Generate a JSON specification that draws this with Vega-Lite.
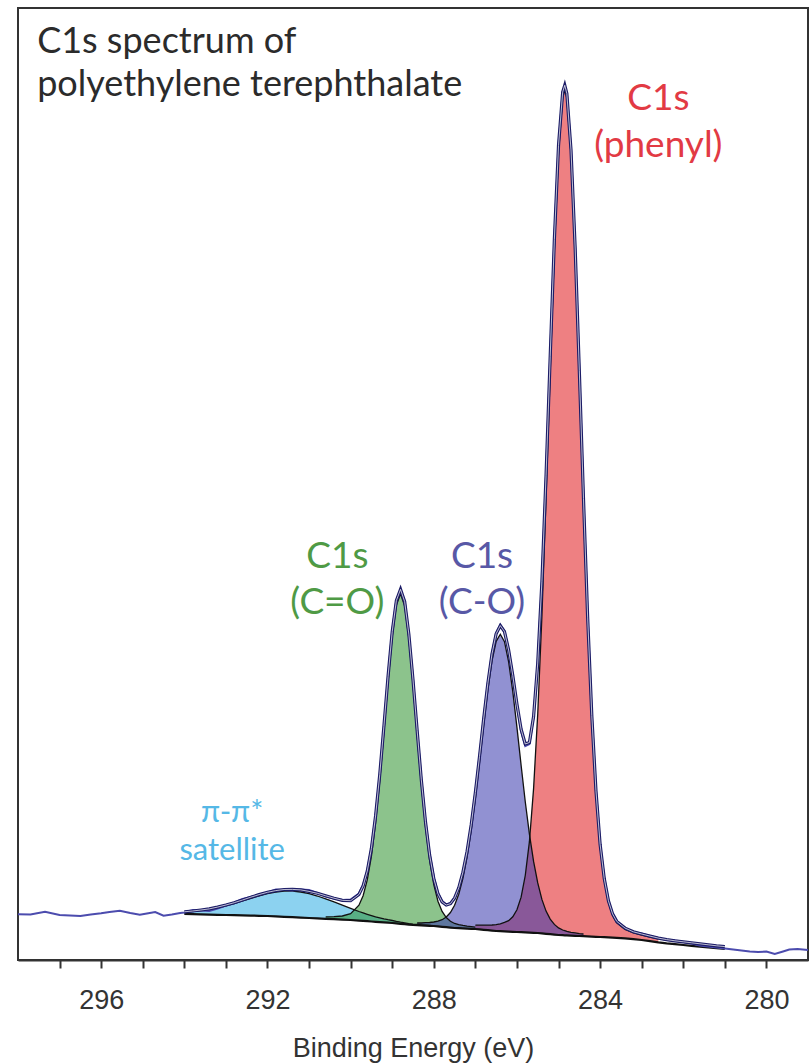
{
  "$schema": "https://vega.github.io/schema/vega-lite/v6.json",
  "width": 790,
  "height": 952,
  "autosize": "none",
  "padding": {"left": 18, "top": 8, "right": 1, "bottom": 103},
  "background": "white",
  "config": {"view": {"stroke": "#333333", "strokeWidth": 2}},
  "datasets": {
    "spec": [
      {"E": 298.0, "obs": 45.7}, {"E": 297.7, "obs": 45.5}, {"E": 297.35, "obs": 48.3}, {"E": 297.0, "obs": 45.0},
      {"E": 296.75, "obs": 44.5}, {"E": 296.5, "obs": 44.0}, {"E": 296.25, "obs": 45.5}, {"E": 296.0, "obs": 46.7},
      {"E": 295.8, "obs": 48.0}, {"E": 295.55, "obs": 49.3}, {"E": 295.3, "obs": 47.0}, {"E": 295.07, "obs": 45.3},
      {"E": 294.9, "obs": 46.5}, {"E": 294.7, "obs": 48.0}, {"E": 294.5, "obs": 44.3}, {"E": 294.3, "obs": 45.5},
      {"E": 294.1, "obs": 47.0},
      {"E": 294.0, "bkg": 46.0, "sat": 47.6, "env": 48.2, "obs": 47.5},
      {"E": 293.8, "bkg": 45.9, "sat": 48.4, "env": 49.0, "obs": 50.0},
      {"E": 293.6, "bkg": 45.7, "sat": 49.3, "env": 50.0, "obs": 49.5},
      {"E": 293.4, "bkg": 45.4, "sat": 50.4, "env": 51.1, "obs": 49.0},
      {"E": 293.2, "bkg": 45.2, "sat": 52.1, "env": 52.9, "obs": 51.5},
      {"E": 293.0, "bkg": 45.0, "sat": 54.1, "env": 55.0, "obs": 54.5},
      {"E": 292.8, "bkg": 44.8, "sat": 56.4, "env": 57.3, "obs": 57.5},
      {"E": 292.6, "bkg": 44.6, "sat": 59.0, "env": 60.0, "obs": 61.0},
      {"E": 292.4, "bkg": 44.4, "sat": 61.7, "env": 62.8, "obs": 63.0},
      {"E": 292.2, "bkg": 44.2, "sat": 64.2, "env": 65.4, "obs": 65.5},
      {"E": 292.0, "bkg": 44.0, "sat": 66.4, "env": 67.7, "obs": 67.5},
      {"E": 291.8, "bkg": 43.6, "sat": 67.9, "env": 69.4, "obs": 70.5},
      {"E": 291.6, "bkg": 43.2, "sat": 68.8, "env": 70.5, "obs": 70.0},
      {"E": 291.4, "bkg": 42.8, "sat": 68.8, "env": 70.6, "obs": 69.5},
      {"E": 291.2, "bkg": 42.4, "sat": 68.0, "env": 70.1, "obs": 70.5},
      {"E": 291.0, "bkg": 42.0, "sat": 66.3, "env": 68.6, "obs": 70.0},
      {"E": 290.8, "bkg": 41.6, "sat": 64.0, "env": 66.7, "obs": 67.0},
      {"E": 290.6, "bkg": 41.2, "sat": 61.2, "co2": 43.1, "env": 64.2, "obs": 63.5},
      {"E": 290.4, "bkg": 40.8, "sat": 58.1, "co2": 43.3, "env": 61.8, "obs": 61.5},
      {"E": 290.2, "bkg": 40.4, "sat": 54.8, "co2": 44.0, "env": 59.7, "obs": 60.0},
      {"E": 290.0, "bkg": 40.0, "sat": 51.6, "co2": 46.3, "env": 59.3, "obs": 60.5},
      {"E": 289.8, "bkg": 39.4, "sat": 48.5, "co2": 54.8, "env": 65.5, "obs": 66.5},
      {"E": 289.7, "bkg": 39.1, "sat": 47.1, "co2": 64.3, "env": 74.0, "obs": 75.0},
      {"E": 289.6, "bkg": 38.8, "sat": 45.7, "co2": 80.1, "env": 88.8, "obs": 89.5},
      {"E": 289.5, "bkg": 38.5, "sat": 44.4, "co2": 103.8, "env": 111.6, "obs": 112.0},
      {"E": 289.4, "bkg": 38.2, "sat": 43.2, "co2": 137.0, "env": 144.0, "obs": 144.5},
      {"E": 289.3, "bkg": 37.9, "sat": 42.2, "co2": 179.0, "env": 185.4, "obs": 185.0},
      {"E": 289.2, "bkg": 37.6, "sat": 41.2, "co2": 227.8, "env": 233.6, "obs": 233.0},
      {"E": 289.1, "bkg": 37.3, "sat": 40.3, "co2": 278.2, "env": 283.5, "obs": 284.0},
      {"E": 289.0, "bkg": 37.0, "sat": 39.5, "co2": 323.3, "env": 328.3, "obs": 329.0},
      {"E": 288.9, "bkg": 36.6, "sat": 38.6, "co2": 354.8, "env": 359.4, "obs": 360.0},
      {"E": 288.8, "bkg": 36.2, "sat": 37.8, "co2": 366.2, "env": 370.6, "obs": 370.0},
      {"E": 288.7, "bkg": 35.8, "sat": 37.1, "co2": 354.0, "env": 358.3, "obs": 359.0},
      {"E": 288.6, "bkg": 35.4, "sat": 36.4, "co2": 321.7, "env": 325.9, "obs": 325.0},
      {"E": 288.5, "bkg": 35.0, "sat": 35.8, "co2": 275.9, "env": 280.1, "obs": 281.0},
      {"E": 288.4, "bkg": 34.8, "sat": 35.5, "co2": 225.0, "co": 37.0, "env": 229.4, "obs": 229.0},
      {"E": 288.3, "bkg": 34.6, "sat": 35.1, "co2": 175.7, "co": 37.0, "env": 180.2, "obs": 181.0},
      {"E": 288.2, "bkg": 34.4, "sat": 34.8, "co2": 133.2, "co": 37.3, "env": 138.2, "obs": 139.0},
      {"E": 288.1, "bkg": 34.2, "sat": 34.5, "co2": 99.5, "co": 37.5, "env": 104.9, "obs": 106.0},
      {"E": 288.0, "bkg": 34.0, "sat": 34.2, "co2": 75.3, "co": 38.0, "env": 81.4, "obs": 83.0},
      {"E": 287.9, "bkg": 33.6, "co2": 58.8, "co": 38.8, "env": 66.3, "obs": 67.0},
      {"E": 287.8, "bkg": 33.2, "co2": 48.6, "co": 40.3, "env": 58.0, "obs": 59.0},
      {"E": 287.7, "bkg": 32.8, "co2": 42.4, "co": 43.0, "env": 55.0, "obs": 55.5},
      {"E": 287.6, "bkg": 32.4, "co2": 38.7, "co": 47.5, "env": 56.3, "obs": 57.0},
      {"E": 287.5, "bkg": 32.0, "co2": 36.5, "co": 54.7, "env": 61.9, "obs": 62.5},
      {"E": 287.4, "bkg": 31.8, "co2": 35.4, "co": 65.8, "env": 72.2, "obs": 72.0},
      {"E": 287.3, "bkg": 31.6, "co2": 34.6, "co": 81.7, "env": 87.7, "obs": 88.0},
      {"E": 287.2, "bkg": 31.4, "co2": 33.9, "co": 102.8, "env": 108.5, "obs": 108.0},
      {"E": 287.1, "bkg": 31.2, "co2": 33.4, "co": 129.6, "env": 135.3, "obs": 135.0},
      {"E": 287.0, "bkg": 31.0, "co2": 32.9, "co": 161.7, "ph": 34.9, "env": 167.5, "obs": 168.0},
      {"E": 286.9, "bkg": 30.6, "co": 197.6, "ph": 34.8, "env": 203.6, "obs": 204.0},
      {"E": 286.8, "bkg": 30.2, "co": 234.9, "ph": 34.8, "env": 241.2, "obs": 242.0},
      {"E": 286.7, "bkg": 29.8, "co": 270.0, "ph": 34.8, "env": 276.6, "obs": 277.0},
      {"E": 286.6, "bkg": 29.4, "co": 299.1, "ph": 35.0, "env": 306.1, "obs": 307.0},
      {"E": 286.5, "bkg": 29.0, "co": 318.7, "ph": 35.3, "env": 326.3, "obs": 327.0},
      {"E": 286.4, "bkg": 28.8, "co": 325.8, "ph": 36.2, "env": 334.4, "obs": 335.0},
      {"E": 286.3, "bkg": 28.6, "co": 318.3, "ph": 37.6, "env": 328.4, "obs": 329.0},
      {"E": 286.2, "bkg": 28.4, "co": 298.1, "ph": 39.3, "env": 310.0, "obs": 310.0},
      {"E": 286.1, "bkg": 28.2, "co": 268.4, "ph": 43.2, "env": 284.4, "obs": 284.0},
      {"E": 286.0, "bkg": 28.0, "co": 232.7, "ph": 50.2, "env": 255.8, "obs": 255.0},
      {"E": 285.9, "bkg": 27.8, "co": 194.8, "ph": 62.8, "env": 230.7, "obs": 229.0},
      {"E": 285.8, "bkg": 27.6, "co": 158.3, "ph": 84.5, "env": 216.0, "obs": 214.0},
      {"E": 285.7, "bkg": 27.4, "co": 125.8, "ph": 118.3, "env": 217.5, "obs": 216.0},
      {"E": 285.6, "bkg": 27.2, "co": 98.6, "ph": 171.4, "env": 243.5, "obs": 243.0},
      {"E": 285.5, "bkg": 27.0, "co": 77.1, "ph": 246.1, "env": 296.9, "obs": 297.0},
      {"E": 285.4, "bkg": 26.6, "co": 60.6, "ph": 343.6, "env": 378.2, "obs": 378.0},
      {"E": 285.3, "bkg": 26.2, "co": 48.9, "ph": 461.5, "env": 484.8, "obs": 485.0},
      {"E": 285.2, "bkg": 25.8, "co": 40.9, "ph": 588.2, "env": 603.8, "obs": 604.0},
      {"E": 285.1, "bkg": 25.4, "co": 35.6, "ph": 709.9, "env": 720.6, "obs": 721.0},
      {"E": 285.0, "bkg": 25.0, "co": 32.1, "ph": 807.0, "env": 814.6, "obs": 815.0},
      {"E": 284.9, "bkg": 24.8, "co": 30.0, "ph": 862.2, "env": 867.9, "obs": 868.0},
      {"E": 284.85, "bkg": 24.7, "co": 29.3, "ph": 869.7, "env": 874.7, "obs": 874.0},
      {"E": 284.8, "bkg": 24.6, "co": 28.6, "ph": 862.0, "env": 866.4, "obs": 867.0},
      {"E": 284.7, "bkg": 24.4, "co": 27.7, "ph": 806.4, "env": 810.1, "obs": 810.0},
      {"E": 284.6, "bkg": 24.2, "co": 27.1, "ph": 708.7, "env": 712.0, "obs": 712.0},
      {"E": 284.5, "bkg": 24.0, "co": 26.4, "ph": 586.4, "env": 589.2, "obs": 589.0},
      {"E": 284.4, "bkg": 23.8, "co": 26.0, "ph": 459.1, "env": 461.7, "obs": 462.0},
      {"E": 284.3, "bkg": 23.6, "ph": 340.6, "env": 342.9, "obs": 343.0},
      {"E": 284.2, "bkg": 23.4, "ph": 242.5, "env": 244.6, "obs": 245.0},
      {"E": 284.1, "bkg": 23.2, "ph": 167.4, "env": 169.4, "obs": 170.0},
      {"E": 284.0, "bkg": 23.0, "ph": 113.9, "env": 115.7, "obs": 116.0},
      {"E": 283.9, "bkg": 22.8, "ph": 79.7, "env": 81.4, "obs": 82.0},
      {"E": 283.8, "bkg": 22.6, "ph": 57.6, "env": 59.2, "obs": 59.5},
      {"E": 283.7, "bkg": 22.4, "ph": 44.6, "env": 46.1, "obs": 46.5},
      {"E": 283.6, "bkg": 22.2, "ph": 37.2, "env": 38.6, "obs": 39.0},
      {"E": 283.4, "bkg": 21.6, "ph": 30.6, "env": 31.9, "obs": 31.5},
      {"E": 283.2, "bkg": 20.8, "ph": 27.1, "env": 28.2, "obs": 28.0},
      {"E": 283.0, "bkg": 20.0, "ph": 25.0, "env": 26.0, "obs": 26.5},
      {"E": 282.8, "bkg": 18.8, "ph": 23.0, "env": 23.9, "obs": 24.0},
      {"E": 282.6, "bkg": 17.6, "ph": 21.1, "env": 21.9, "obs": 22.0},
      {"E": 282.4, "bkg": 16.6, "env": 20.4, "obs": 20.0},
      {"E": 282.2, "bkg": 15.8, "env": 19.2, "obs": 19.5},
      {"E": 282.0, "bkg": 15.0, "env": 18.2, "obs": 18.0},
      {"E": 281.8, "bkg": 14.2, "env": 17.2, "obs": 16.5},
      {"E": 281.6, "bkg": 13.4, "env": 16.2, "obs": 14.5},
      {"E": 281.4, "bkg": 12.6, "env": 15.2, "obs": 13.5},
      {"E": 281.2, "bkg": 11.8, "env": 14.2, "obs": 12.5},
      {"E": 281.0, "bkg": 11.0, "env": 13.4, "obs": 11.5},
      {"E": 280.8, "obs": 10.5}, {"E": 280.6, "obs": 9.5}, {"E": 280.4, "obs": 8.5}, {"E": 280.2, "obs": 8.0},
      {"E": 280.0, "obs": 8.5}, {"E": 279.8, "obs": 6.0}, {"E": 279.6, "obs": 8.5}, {"E": 279.45, "obs": 10.5},
      {"E": 279.25, "obs": 11.0}, {"E": 279.0, "obs": 10.0}
    ],
    "titles": [
      {"E": 297.54, "I": 907, "text": "C1s spectrum of"},
      {"E": 297.54, "I": 864, "text": "polyethylene terephthalate"}
    ],
    "peaks": [
      {"E": 282.6, "I": 850, "text": "C1s", "grp": "phenyl"},
      {"E": 282.6, "I": 803, "text": "(phenyl)", "grp": "phenyl"},
      {"E": 290.32, "I": 392, "text": "C1s", "grp": "C=O"},
      {"E": 290.32, "I": 346, "text": "(C=O)", "grp": "C=O"},
      {"E": 286.84, "I": 392, "text": "C1s", "grp": "C-O"},
      {"E": 286.84, "I": 346, "text": "(C-O)", "grp": "C-O"}
    ],
    "satlab": [
      {"E": 292.85, "I": 138, "text": "π-π*"},
      {"E": 292.85, "I": 100, "text": "satellite"}
    ]
  },
  "encoding": {
    "x": {
      "field": "E", "type": "quantitative",
      "scale": {"domain": [279, 298], "reverse": true, "nice": false, "zero": false},
      "axis": {
        "values": [280, 281, 282, 283, 284, 285, 286, 287, 288, 289, 290, 291, 292, 293, 294, 295, 296, 297],
        "labelExpr": "datum.value % 4 === 0 ? datum.label : ''",
        "title": "Binding Energy (eV)",
        "grid": false,
        "domainColor": "#333333", "domainWidth": 2,
        "tickColor": "#333333", "tickWidth": 2, "tickSize": 8,
        "labelFont": "Liberation Sans", "labelFontSize": 27, "labelColor": "#333333",
        "labelBaseline": "alphabetic", "labelPadding": 40, "labelFlush": false, "labelOverlap": false,
        "titleFont": "Liberation Sans", "titleFontSize": 27, "titleFontWeight": "normal", "titleColor": "#333333",
        "titleBaseline": "alphabetic", "titleY": 96
      }
    }
  },
  "layer": [
    {"data": {"name": "spec"}, "mark": {"type": "area", "color": "#2eade4", "opacity": 0.55},
     "encoding": {"y": {"field": "sat", "type": "quantitative", "scale": {"domain": [0, 952], "nice": false, "zero": false}, "axis": null}, "y2": {"field": "bkg"}}},
    {"data": {"name": "spec"}, "mark": {"type": "area", "color": "#2e922e", "opacity": 0.55},
     "encoding": {"y": {"field": "co2", "type": "quantitative", "scale": {"domain": [0, 952], "nice": false, "zero": false}, "axis": null}, "y2": {"field": "bkg"}}},
    {"data": {"name": "spec"}, "mark": {"type": "area", "color": "#e0181c", "opacity": 0.55},
     "encoding": {"y": {"field": "ph", "type": "quantitative", "scale": {"domain": [0, 952], "nice": false, "zero": false}, "axis": null}, "y2": {"field": "bkg"}}},
    {"data": {"name": "spec"}, "mark": {"type": "area", "color": "#3737ad", "opacity": 0.55},
     "encoding": {"y": {"field": "co", "type": "quantitative", "scale": {"domain": [0, 952], "nice": false, "zero": false}, "axis": null}, "y2": {"field": "bkg"}}},
    {"data": {"name": "spec"}, "mark": {"type": "line", "color": "#111111", "strokeWidth": 1.3},
     "encoding": {"y": {"field": "sat", "type": "quantitative", "scale": {"domain": [0, 952], "nice": false, "zero": false}, "axis": null}}},
    {"data": {"name": "spec"}, "mark": {"type": "line", "color": "#111111", "strokeWidth": 1.3},
     "encoding": {"y": {"field": "co2", "type": "quantitative", "scale": {"domain": [0, 952], "nice": false, "zero": false}, "axis": null}}},
    {"data": {"name": "spec"}, "mark": {"type": "line", "color": "#111111", "strokeWidth": 1.3},
     "encoding": {"y": {"field": "co", "type": "quantitative", "scale": {"domain": [0, 952], "nice": false, "zero": false}, "axis": null}}},
    {"data": {"name": "spec"}, "mark": {"type": "line", "color": "#111111", "strokeWidth": 1.3},
     "encoding": {"y": {"field": "ph", "type": "quantitative", "scale": {"domain": [0, 952], "nice": false, "zero": false}, "axis": null}}},
    {"data": {"name": "spec"}, "mark": {"type": "line", "color": "#111111", "strokeWidth": 2.2},
     "encoding": {"y": {"field": "bkg", "type": "quantitative", "scale": {"domain": [0, 952], "nice": false, "zero": false}, "axis": null}}},
    {"data": {"name": "spec"}, "mark": {"type": "line", "color": "#4c4cae", "strokeWidth": 2},
     "encoding": {"y": {"field": "obs", "type": "quantitative", "scale": {"domain": [0, 952], "nice": false, "zero": false}, "axis": null}}},
    {"data": {"name": "spec"}, "mark": {"type": "line", "color": "#1c1c66", "strokeWidth": 3.2},
     "encoding": {"y": {"field": "env", "type": "quantitative", "scale": {"domain": [0, 952], "nice": false, "zero": false}, "axis": null}}},
    {"data": {"name": "spec"}, "mark": {"type": "line", "color": "#ffffff", "strokeWidth": 0.9, "opacity": 0.8},
     "encoding": {"y": {"field": "env", "type": "quantitative", "scale": {"domain": [0, 952], "nice": false, "zero": false}, "axis": null}}},
    {"data": {"name": "titles"}, "mark": {"type": "text", "align": "left", "baseline": "alphabetic", "font": "Lato", "fontSize": 36, "color": "#2b2b2b"},
     "encoding": {"y": {"field": "I", "type": "quantitative", "scale": {"domain": [0, 952], "nice": false, "zero": false}, "axis": null}, "text": {"field": "text"}}},
    {"data": {"name": "peaks"}, "mark": {"type": "text", "align": "center", "baseline": "alphabetic", "font": "Lato", "fontSize": 37},
     "encoding": {
       "y": {"field": "I", "type": "quantitative", "scale": {"domain": [0, 952], "nice": false, "zero": false}, "axis": null},
       "text": {"field": "text"},
       "color": {"field": "grp", "type": "nominal", "legend": null,
                 "scale": {"domain": ["phenyl", "C=O", "C-O"], "range": ["#e23a44", "#4f9a45", "#5858a6"]}}
     }},
    {"data": {"name": "satlab"}, "mark": {"type": "text", "align": "center", "baseline": "alphabetic", "font": "Lato", "fontSize": 31, "color": "#55b8e6"},
     "encoding": {"y": {"field": "I", "type": "quantitative", "scale": {"domain": [0, 952], "nice": false, "zero": false}, "axis": null}, "text": {"field": "text"}}}
  ]
}
